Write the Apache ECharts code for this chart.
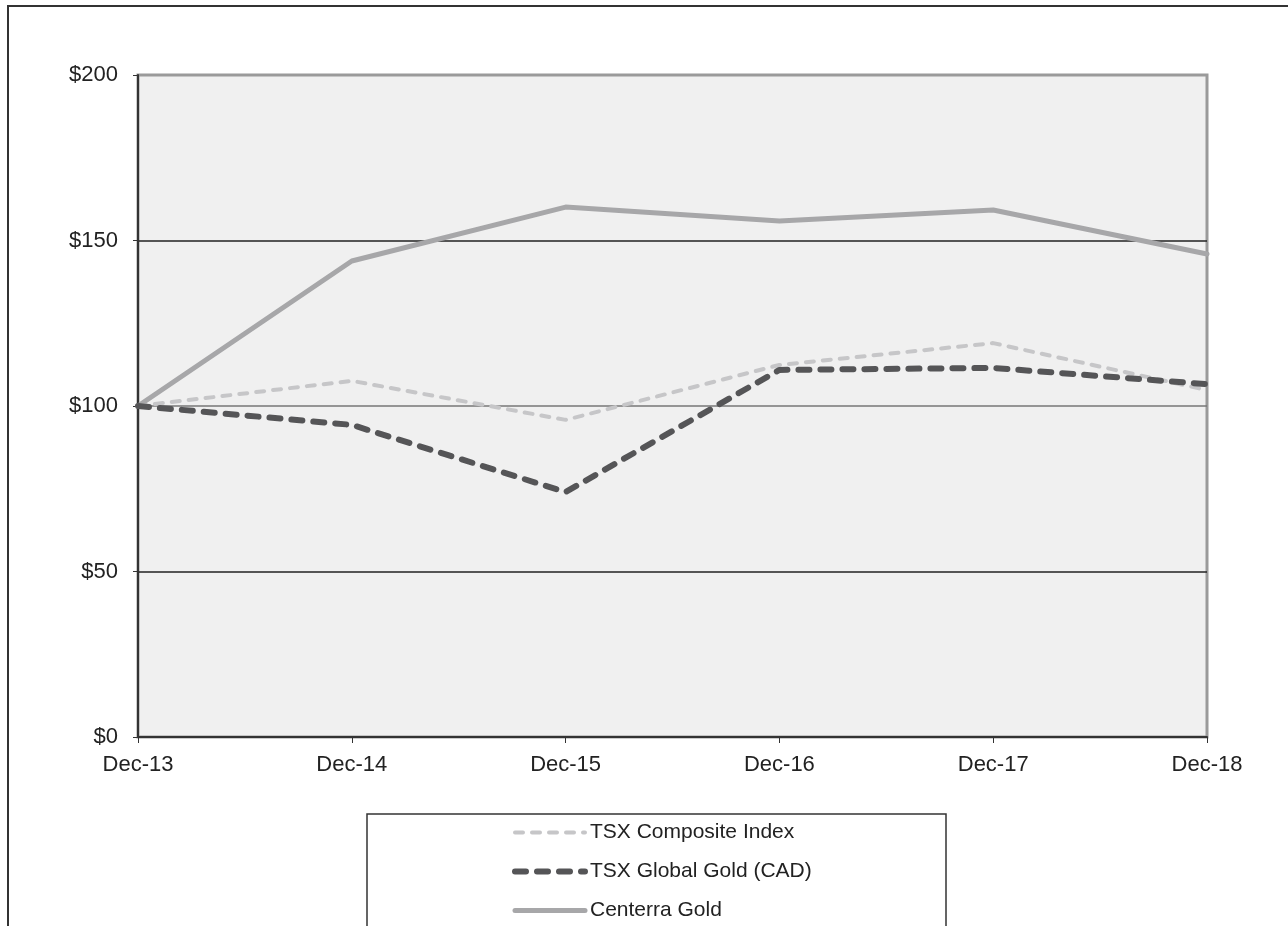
<!DOCTYPE html>
<html>
<head>
<meta charset="utf-8">
<script src="https://cdn.jsdelivr.net/npm/echarts@6/dist/echarts.min.js"></script>
<style>
  html, body { margin: 0; padding: 0; background: #fff; }
  #chart { width: 1288px; height: 926px; }
</style>
</head>
<body>
<div id="chart"></div>
<script>
// data
var years = ['Dec-13', 'Dec-14', 'Dec-15', 'Dec-16', 'Dec-17', 'Dec-18'];
var tsxComposite = [100, 107.6, 95.8, 112.4, 119.0, 104.8];
var tsxGlobalGold = [100, 94.3, 74.0, 110.9, 111.5, 106.6];
var centerraGold = [100, 143.8, 160.1, 155.9, 159.2, 145.9];

var chartDom = document.getElementById('chart');
var myChart = echarts.init(chartDom);
var option;

var fontName = 'Liberation Sans, Arial, sans-serif';

// line styles, shared by series and legend
var styleComposite = { color: '#c6c6c8', width: 4, type: [8, 9], cap: 'round' };
var styleGold = { color: '#555557', width: 6, type: [11, 11], cap: 'round' };
var styleCenterra = { color: '#a7a7a9', width: 5, cap: 'round' };

option = {
  animation: false,
  backgroundColor: '#fff',
  grid: {
    left: 138,
    right: 81,
    top: 75,
    bottom: 189,
    show: true,
    backgroundColor: '#f0f0f0',
    borderColor: '#9a9a9a',
    borderWidth: 3
  },
  graphic: [
    {
      type: 'rect',
      shape: { x: 8, y: 6, width: 1400, height: 1000 },
      style: { fill: 'none', stroke: '#333', lineWidth: 2 },
      silent: true
    },
    {
      type: 'rect',
      shape: { x: 367, y: 814, width: 579, height: 200 },
      style: { fill: '#fff', stroke: '#333', lineWidth: 1.5 },
      silent: true,
      z: 0
    }
  ],
  legend: {
    orient: 'vertical',
    left: 512,
    top: 822,
    padding: 0,
    itemWidth: 70,
    itemHeight: 14,
    itemGap: 18,
    z: 10,
    itemStyle: { opacity: 0 },
    textStyle: {
      color: '#222',
      fontFamily: fontName,
      fontSize: 21,
      lineHeight: 21
    },
    data: [
      { name: 'TSX Composite Index', lineStyle: styleComposite },
      { name: 'TSX Global Gold (CAD)', lineStyle: styleGold },
      { name: 'Centerra Gold', lineStyle: styleCenterra }
    ]
  },
  xAxis: {
    type: 'category',
    boundaryGap: false,
    data: years,
    axisLine: { lineStyle: { color: '#333', width: 2 } },
    axisTick: { show: true, length: 6, lineStyle: { color: '#333', width: 1 } },
    axisLabel: {
      color: '#222',
      fontFamily: fontName,
      fontSize: 22,
      margin: 17
    }
  },
  yAxis: {
    type: 'value',
    min: 0,
    max: 200,
    interval: 50,
    axisLine: { show: true, lineStyle: { color: '#333', width: 2 } },
    axisTick: { show: true, length: 5, lineStyle: { color: '#333' } },
    axisLabel: {
      color: '#222',
      fontFamily: fontName,
      fontSize: 22,
      margin: 20,
      formatter: '${value}'
    },
    splitLine: {
      lineStyle: { color: ['#333', '#222', '#777', '#222', '#9a9a9a'], width: 1.5 }
    }
  },
  series: [
    {
      name: 'TSX Composite Index',
      type: 'line',
      data: tsxComposite,
      showSymbol: false,
      symbol: 'none',
      itemStyle: { color: styleComposite.color },
      lineStyle: styleComposite,
      z: 3
    },
    {
      name: 'TSX Global Gold (CAD)',
      type: 'line',
      data: tsxGlobalGold,
      showSymbol: false,
      symbol: 'none',
      itemStyle: { color: styleGold.color },
      lineStyle: styleGold,
      z: 4
    },
    {
      name: 'Centerra Gold',
      type: 'line',
      data: centerraGold,
      showSymbol: false,
      symbol: 'none',
      itemStyle: { color: styleCenterra.color },
      lineStyle: styleCenterra,
      z: 2
    }
  ]
};

option && myChart.setOption(option);
</script>
</body>
</html>
